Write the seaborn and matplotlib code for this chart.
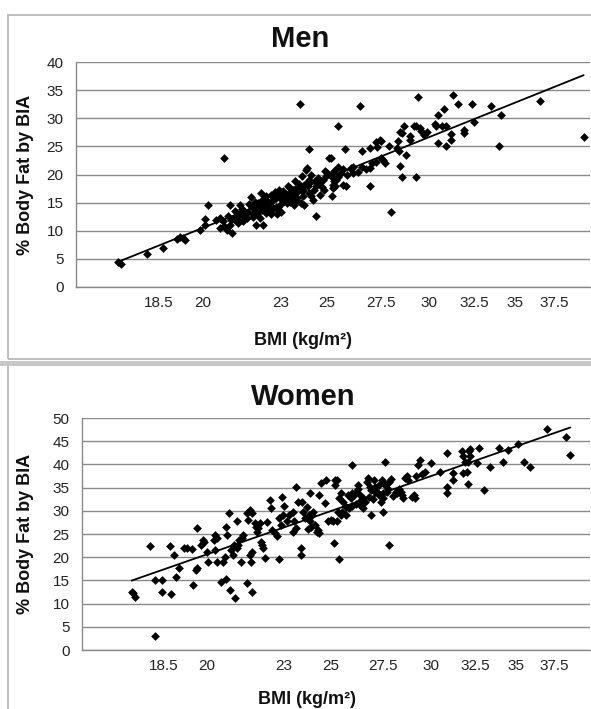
import pandas as pd
import matplotlib.pyplot as plt
import seaborn as sns
from matplotlib.patches import Rectangle
from matplotlib.ticker import FixedLocator, NullLocator, NullFormatter

# values (BMI in kg/m2, % body fat by BIA)
men_bmi = [17.2, 17.3, 18.1, 18.65, 19.1, 19.2, 19.3, 19.4, 19.9, 20.1, 20.1, 20.2, 20.8,
           20.5, 20.65, 20.75, 20.8, 20.65, 20.9, 21.0, 21.1, 20.95, 21.05, 21.0, 21.4,
           21.15, 21.25, 21.4, 21.5, 21.6, 21.7, 21.65, 21.5, 21.3,
           21.8, 21.55, 21.85, 22.0, 22.05, 22.0, 22.3,
           22.1, 22.25, 22.4, 22.5, 22.7, 22.8, 22.95, 23.05, 22.8, 22.5, 22.25, 22.4, 22.65, 22.9, 23.1,
           23.2, 23.35, 23.5, 23.65, 23.8, 23.95, 24.1, 24.2, 23.65, 23.95, 24.2, 24.5, 24.65, 24.8, 24.95,
           23.8, 24.2, 24.05, 24.1, 24.5, 25.1, 25.0, 25.15, 25.3, 25.25, 25.2,
           21.2, 21.9, 22.15, 22.6, 22.35, 22.6, 23.0, 23.25, 23.4, 23.55, 23.3, 23.6, 23.85, 24.0,
           24.35, 24.4, 24.3, 24.7, 24.85, 24.6, 24.9, 23.45, 23.15, 22.95, 23.7, 24.15, 24.45, 21.95,
           22.2, 23.9,
           21.3, 21.45, 21.75, 22.0, 22.2, 22.35, 22.55, 22.75, 22.85, 23.0, 23.2, 23.4, 23.55, 23.75,
           24.0, 24.25, 24.55, 24.75, 22.45, 22.7, 23.1, 23.3, 23.6, 23.9, 24.3, 21.9, 22.1, 22.6,
           25.5, 26.5, 29.4, 31.3, 31.6, 32.4, 33.5, 34.1, 34.0, 32.5, 36.6, 39.55,
           30.8, 30.5, 30.3, 30.35, 30.9, 30.7, 31.2, 31.2, 30.9, 30.5, 31.9, 31.95, 29.9, 29.7,
           29.5, 29.55, 29.2, 29.3, 29.0, 29.0, 28.7, 28.5, 28.35, 28.3, 28.4, 28.8, 28.5, 28.6,
           29.3, 28.0, 27.5, 27.45, 27.3, 27.35, 27.0, 26.6, 25.8, 27.0,
           27.5, 27.7, 27.6, 27.3, 27.1, 27.0, 26.8, 26.6, 26.4, 26.2, 26.1, 25.9, 25.7, 25.5, 25.6,
           25.3, 25.5, 25.4, 25.25, 25.35, 25.7, 25.85, 25.15, 26.1, 26.2, 27.9, 28.6]
men_fat = [4.4, 4.1, 5.9, 6.9, 8.6, 8.9, 8.7, 8.3, 10.1, 11.0, 12.1, 14.6, 23.0,
           12.0, 12.3, 11.7, 10.8, 10.5, 10.2, 11.1, 9.6, 12.6, 11.9, 14.5, 14.5,
           12.1, 12.6, 12.9, 12.6, 13.2, 13.4, 12.3, 11.7, 12.0,
           16.0, 13.5, 14.3, 13.8, 12.9, 11.0, 11.0,
           14.9, 15.5, 16.1, 14.9, 15.5, 15.8, 16.4, 15.5, 14.3, 14.0, 13.7, 13.1, 13.7, 14.3, 17.0,
           16.1, 16.7, 17.3, 16.7, 17.9, 17.3, 18.5, 19.1, 15.5, 16.1, 16.7, 17.9, 18.5, 19.1, 19.7,
           32.6, 24.6, 20.8, 21.1, 12.6, 23.0, 20.3, 19.7, 20.6, 17.6, 16.1,
           13.5, 12.5, 12.2, 12.9, 14.6, 16.4, 13.4, 14.9, 15.2, 14.5, 17.9, 18.8, 15.0, 14.6,
           15.4, 17.3, 20.0, 16.4, 17.3, 19.4, 20.6, 16.0, 15.3, 17.3, 15.9, 17.9, 18.8, 15.2,
           16.7, 19.7,
           11.4, 13.9, 14.8, 14.6, 14.1, 15.7, 15.2, 16.9, 13.0, 14.8, 16.3, 17.6, 16.3, 18.3,
           18.2, 18.7, 19.0, 17.8, 14.5, 14.0, 16.0, 15.6, 17.5, 17.0, 16.1, 13.0, 13.3, 15.3,
           28.6, 32.1, 33.8, 34.2, 32.6, 32.6, 32.1, 30.6, 25.0, 29.4, 33.1, 26.7,
           31.6, 30.6, 29.0, 28.7, 28.6, 28.6, 27.2, 26.2, 25.0, 25.6, 28.0, 27.4, 27.5, 27.1,
           28.3, 27.7, 28.6, 28.6, 26.2, 26.8, 28.6, 27.5, 25.9, 24.7, 24.1, 23.5, 21.6, 19.6,
           19.6, 13.4, 25.9, 26.2, 25.7, 24.9, 24.7, 24.1, 24.5, 17.9,
           22.9, 22.0, 22.6, 22.3, 22.0, 21.2, 20.9, 21.4, 20.5, 20.3, 20.9, 20.0, 20.9, 21.4, 20.2,
           18.8, 19.6, 19.0, 18.1, 17.9, 18.2, 17.9, 22.9, 21.2, 21.4, 25.0, 27.4]

women_bmi = [17.5, 17.55, 17.45, 18.05, 18.2, 18.2, 18.45, 18.45, 18.7, 18.75, 18.85, 19.0, 18.9,
             19.2, 19.3, 19.45, 19.5, 19.65, 19.6, 19.65, 19.8, 19.9, 19.85, 20.0, 20.05, 20.25,
             20.3, 20.35, 20.3, 20.35, 20.5, 20.7, 20.6, 20.65, 20.7, 20.75, 20.8, 20.85, 20.9,
             20.95, 21.05, 21.1, 21.1, 21.15, 21.2, 21.0, 21.25, 21.3, 21.35, 21.5, 21.55, 21.5,
             21.7, 21.6, 21.7, 21.6, 21.7, 21.65, 21.8, 21.85, 21.95, 21.9, 22.0, 22.1, 22.15,
             22.2, 22.05, 22.4, 22.45, 22.5, 22.6, 22.7, 22.8, 22.9, 22.8, 22.95, 23.1, 22.85,
             23.2, 23.35, 23.4, 23.5, 23.35, 23.5, 23.6, 23.75, 23.7, 23.7, 23.8, 23.9, 24.05,
             24.1, 23.95, 24.2, 24.15, 24.25, 24.1, 24.3, 24.45, 24.5, 24.4, 24.6, 24.8, 25.2,
             24.5, 24.75, 24.9, 25.05, 25.3,
             37.0, 38.3, 38.6, 35.9, 35.5, 35.1, 34.5, 34.2, 33.9, 33.4, 33.0, 32.7, 32.2, 32.1,
             32.2, 32.15, 32.6, 32.1, 31.7, 31.8, 31.9, 31.8, 32.0, 31.2, 31.2, 30.9, 30.9, 30.9,
             30.5, 30.0, 29.4, 29.3, 29.2, 29.5, 29.7, 29.15, 29.1, 29.0, 28.6, 28.8, 28.7, 28.5,
             28.45, 28.4, 28.3, 28.2, 28.15, 27.9, 27.8, 27.75, 27.7, 27.5, 27.6, 27.45, 27.3,
             27.1, 27.05, 27.8, 27.5, 27.4, 27.3, 27.1, 26.9, 26.7, 26.75, 26.85, 26.5, 26.45,
             26.4, 26.3, 26.2, 26.1, 26.0, 25.95, 26.0, 26.4, 26.5, 26.6, 25.85, 25.7, 25.55,
             25.5, 25.35, 25.3, 25.2, 25.1, 25.15, 25.4, 25.7, 25.6, 25.4, 25.5, 26.9, 27.5,
             26.2, 26.8, 27.2, 27.6, 26.0, 25.8, 28.0, 26.3, 27.0, 24.0, 23.0, 22.3]
women_fat = [12.2, 11.5, 12.6, 22.5, 3.0, 15.1, 15.1, 12.6, 22.5, 12.1, 20.5, 17.6, 15.8,
             21.9, 21.9, 21.7, 14.0, 26.4, 17.2, 17.6, 22.6, 23.3, 23.7, 21.2, 19.0, 23.7,
             24.8, 24.1, 21.6, 19.0, 14.7, 15.4, 19.0, 20.1, 26.6, 24.8, 29.5, 12.9, 21.6,
             20.5, 11.1, 27.7, 21.9, 22.6, 23.7, 22.6, 19.0, 24.1, 24.8, 29.5, 28.0, 14.4,
             12.6, 30.2, 29.5, 20.5, 21.2, 19.0, 27.3, 26.6, 26.2, 25.5, 27.3, 22.6, 21.9,
             19.8, 23.3, 32.3, 30.5, 25.9, 25.2, 24.5, 19.6, 33.0, 28.4, 29.1, 27.7, 27.0,
             29.1, 29.8, 27.7, 26.2, 25.5, 35.1, 32.0, 32.0, 21.9, 20.5, 29.8, 28.4, 29.1,
             27.7, 30.9, 29.1, 26.6, 29.8, 33.8, 27.0, 25.9, 25.2, 25.5, 35.9, 36.6, 36.6,
             33.4, 31.6, 27.7, 28.0, 27.7,
             47.6, 45.9, 42.0, 39.5, 40.6, 44.5, 43.1, 40.6, 43.5, 39.5, 34.5, 43.5, 43.3, 40.6,
             41.8, 42.8, 40.2, 35.7, 42.8, 41.8, 40.6, 38.1, 38.4, 38.1, 36.6, 35.2, 33.8, 42.5,
             38.4, 40.2, 40.9, 39.9, 37.4, 37.9, 38.4, 32.7, 33.4, 33.0, 37.0, 36.6, 37.4, 32.7,
             33.4, 34.1, 34.8, 33.8, 34.1, 36.9, 36.3, 34.8, 34.1, 33.8, 40.6, 36.6, 35.5,
             35.2, 36.6, 22.6, 32.7, 32.0, 33.4, 34.1, 34.5, 36.3, 37.0, 35.2, 32.7, 32.3,
             33.4, 34.8, 34.1, 33.4, 33.8, 32.7, 39.9, 31.3, 30.5, 32.0, 30.5, 30.9, 29.8,
             29.1, 29.8, 36.6, 35.6, 27.7, 23.0, 19.6, 29.1, 32.0, 32.7, 33.8, 29.1, 29.8,
             31.5, 33.0, 34.0, 35.5, 31.0, 33.3, 33.2, 35.6, 32.6, 26.0, 31.0, 27.5]

x_ticks = [18.5, 20, 23, 25, 27.5, 30, 32.5, 35, 37.5]
x_tick_labels = ['18.5', '20', '23', '25', '27.5', '30', '32.5', '35', '37.5']
men_yticks = [0, 5, 10, 15, 20, 25, 30, 35, 40]
women_yticks = [0, 5, 10, 15, 20, 25, 30, 35, 40, 45, 50]

GRID = '#8a8a8a'


def draw_panel(ax, bmi, fat, yticks, label_x):
    df = pd.DataFrame({'bmi': bmi, 'fat': fat})
    sns.regplot(data=df, x='bmi', y='fat', ax=ax, logx=True, ci=None, truncate=True,
                marker='D', color='black',
                scatter_kws={'s': 20, 'linewidths': 0, 'alpha': 1},
                line_kws={'color': 'black', 'lw': 1.3})
    ax.set_xscale('log')
    ax.set_xlim(15.95, 40)
    ax.set_ylim(yticks[0], yticks[-1])
    ax.xaxis.set_major_locator(FixedLocator(x_ticks))
    ax.xaxis.set_minor_locator(NullLocator())
    ax.xaxis.set_minor_formatter(NullFormatter())
    ax.set_xticklabels(x_tick_labels)
    ax.set_yticks(yticks)
    ax.set_xlabel('')
    ax.set_ylabel('% Body Fat by BIA', fontsize=13, fontweight='bold', color='#111111')
    ax.yaxis.set_label_coords(label_x, 0.5)
    ax.grid(True, axis='y', color=GRID, lw=1)
    ax.grid(False, axis='x')
    ax.set_axisbelow(True)
    for side in ['top', 'right']:
        ax.spines[side].set_visible(False)
    for side in ['left', 'bottom']:
        ax.spines[side].set_color(GRID)
        ax.spines[side].set_linewidth(1)
    ax.tick_params(axis='x', direction='inout', length=11, width=1, color=GRID,
                   labelsize=11, labelcolor='#222222', pad=1)
    ax.tick_params(axis='y', direction='out', length=4, width=1, color=GRID,
                   labelsize=11, labelcolor='#222222', pad=5)


def main():
    sns.set_style('white')
    plt.rcParams['font.family'] = ['Liberation Sans', 'DejaVu Sans']

    W, H = 591, 709
    fig = plt.figure(figsize=(W / 100, H / 100), dpi=100)

    # panel frames
    fig.patches.append(Rectangle((8 / W, 1 - 359 / H), 1.0, (359 - 15) / H,
                                 transform=fig.transFigure, fill=False,
                                 edgecolor='#b4b4b4', lw=1.2))
    fig.patches.append(Rectangle((8 / W, -0.01), 1.0, 0.01 + (709 - 364) / H,
                                 transform=fig.transFigure, fill=False,
                                 edgecolor='#b4b4b4', lw=1.2))
    fig.patches.append(Rectangle((0, 1 - 366 / H), 1.0, 5 / H,
                                 transform=fig.transFigure, fill=True,
                                 facecolor='#c8c8c8', edgecolor='none'))

    ax_men = fig.add_axes([76 / W, 1 - 287 / H, (590 - 76) / W, (287 - 62) / H])
    ax_women = fig.add_axes([82 / W, 1 - 650 / H, (590 - 82) / W, (650 - 418) / H])

    draw_panel(ax_men, men_bmi, men_fat, men_yticks, -0.082)
    draw_panel(ax_women, women_bmi, women_fat, women_yticks, -0.094)

    title_kw = dict(ha='center', va='center', fontsize=21, fontweight='bold', color='#111111')
    fig.text(300 / W, 1 - 39 / H, 'Men', **title_kw)
    fig.text(303 / W, 1 - 397 / H, 'Women', **title_kw)

    xlab_kw = dict(ha='center', va='center', fontsize=13, fontweight='bold', color='#111111')
    fig.text(303 / W, 1 - 341 / H, 'BMI (kg/m²)', **xlab_kw)
    fig.text(307 / W, 1 - 699 / H, 'BMI (kg/m²)', **xlab_kw)

    fig.savefig('out.png', dpi=100, facecolor='white')
    plt.close(fig)


if __name__ == '__main__':
    main()
